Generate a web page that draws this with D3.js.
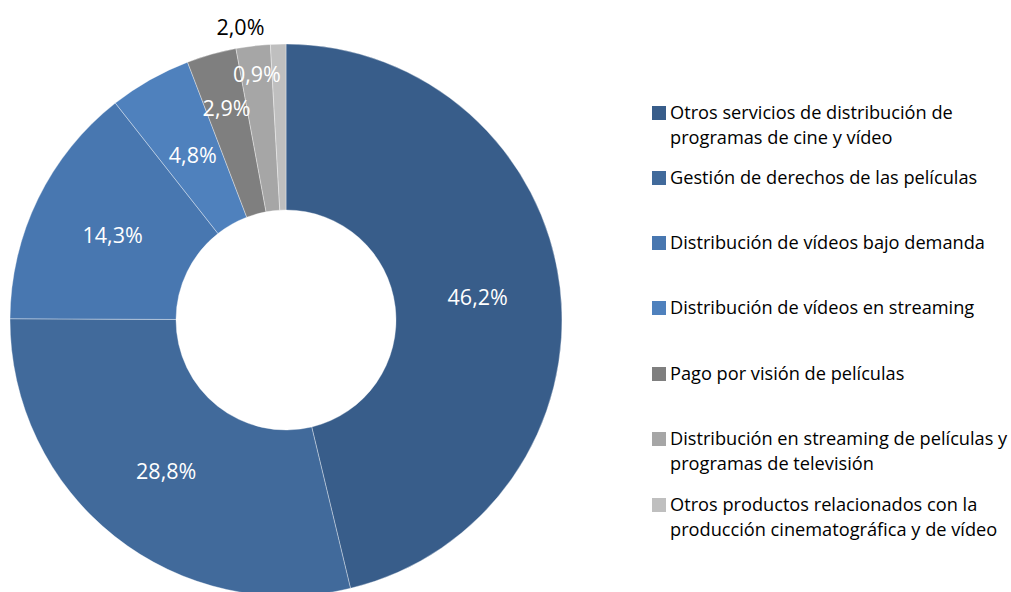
<!DOCTYPE html>
<html>
<head>
  <meta charset="utf-8">
  <title>Donut</title>
  <script src="https://d3js.org/d3.v7.min.js"></script>
  <style>
    body { margin: 0; background: #fff; }
    text { font-family: "Open Sans", Lato, sans-serif; }
  </style>
</head>
<body>
  <script>
    var categories = [
      ['Otros servicios de distribución de', 'programas de cine y vídeo'],
      ['Gestión de derechos de las películas'],
      ['Distribución de vídeos bajo demanda'],
      ['Distribución de vídeos en streaming'],
      ['Pago por visión de películas'],
      ['Distribución en streaming de películas y', 'programas de televisión'],
      ['Otros productos relacionados con la', 'producción cinematográfica y de vídeo']
    ];
    var values = [46.2, 28.8, 14.3, 4.8, 2.9, 2.0, 0.9];
    var colors = ['#385d8a', '#416a9b', '#4877b0', '#4f81bd', '#7f7f7f', '#a6a6a6', '#bfbfbf'];

    var width = 1011, height = 592;
    var cx = 286, cy = 320, outerR = 276, innerR = 110;

    var svg = d3.select('body').append('svg')
      .attr('width', width)
      .attr('height', height);

    var pie = d3.pie().sort(null);
    var piedata = pie(values);
    var arc = d3.arc().outerRadius(outerR).innerRadius(innerR);

    var g = svg.append('g').attr('transform', 'translate(' + cx + ',' + cy + ')');

    g.selectAll('path')
      .data(piedata)
      .enter()
      .append('path')
      .attr('fill', (d, i) => colors[i])
      .attr('stroke', 'rgba(255,255,255,0.45)')
      .attr('stroke-width', 0.8)
      .attr('d', arc);

    // label placement: radius and angle shift for the small slices
    var labelR = [193, 193, 193, 189, 220, 296, 247];
    var labelShift = [0, 0, 0, 0, 0, -0.035, -0.09];
    var fmt = v => d3.format('.1f')(v).replace('.', ',') + '%';

    g.selectAll('text.lbl')
      .data(piedata)
      .enter()
      .append('text')
      .attr('class', 'lbl')
      .attr('transform', (d, i) => {
        var a = (d.startAngle + d.endAngle) / 2 + labelShift[i];
        return 'translate(' + (labelR[i] * Math.sin(a)) + ',' + (-labelR[i] * Math.cos(a)) + ')';
      })
      .attr('text-anchor', 'middle')
      .attr('dy', '0.35em')
      .attr('font-size', 21.5)
      .attr('fill', (d, i) => i === 5 ? '#000' : '#fff')
      .text(d => fmt(d.data));

    // legend
    var legendY = [113, 178, 243, 308, 374, 439, 505];
    var lg = svg.selectAll('g.leg')
      .data(categories)
      .enter()
      .append('g')
      .attr('class', 'leg')
      .attr('transform', (d, i) => 'translate(652,' + legendY[i] + ')');

    lg.append('rect')
      .attr('x', 0).attr('y', -7)
      .attr('width', 14).attr('height', 14)
      .attr('fill', (d, i) => colors[i]);

    lg.append('text')
      .attr('x', 18)
      .attr('font-size', 18.2)
      .attr('fill', '#000')
      .selectAll('tspan')
      .data(d => d)
      .enter()
      .append('tspan')
      .attr('x', 18)
      .attr('y', (d, j) => j * 25)
      .attr('dy', '0.35em')
      .text(d => d);
  </script>
</body>
</html>
